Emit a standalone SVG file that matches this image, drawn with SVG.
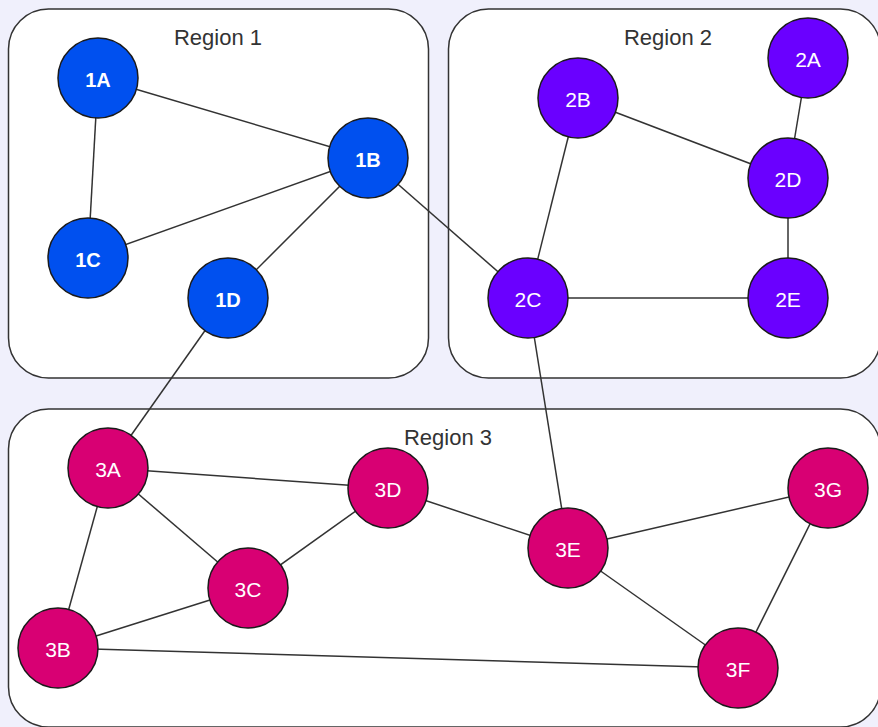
<svg xmlns="http://www.w3.org/2000/svg" width="878" height="727" viewBox="0 0 878 727">
<style>
.region{fill:#ffffff;stroke:#333333;stroke-width:1.5}
.rlabel{font-family:"Liberation Sans",Arial,sans-serif;font-size:22px;fill:#333333;text-anchor:middle}
.edge{stroke:#333333;stroke-width:1.5;fill:none}
.node circle{stroke:#1a1a1a;stroke-width:1.5}
.r1 circle{fill:#0050EF}
.r2 circle{fill:#6A00FF}
.r3 circle{fill:#D80073}
.node text{font-family:"Liberation Sans",Arial,sans-serif;font-size:21px;fill:#ffffff;text-anchor:middle;dominant-baseline:central}
.r1 text{font-weight:bold;font-size:20px}
</style>
<rect x="0" y="0" width="878" height="727" fill="#F0F0FC"/>
<g id="region1"><rect class="region" x="8.5" y="9" width="420" height="369" rx="40"/><text class="rlabel" x="218" y="45">Region 1</text></g>
<g id="region2"><rect class="region" x="448.5" y="9" width="432" height="369" rx="40"/><text class="rlabel" x="668" y="45">Region 2</text></g>
<g id="region3"><rect class="region" x="8.5" y="409" width="872" height="318" rx="40"/><text class="rlabel" x="448" y="445">Region 3</text></g>
<g id="edges">
<line class="edge" x1="98" y1="78" x2="368" y2="158"/>
<line class="edge" x1="98" y1="78" x2="88" y2="258"/>
<line class="edge" x1="88" y1="258" x2="368" y2="158"/>
<line class="edge" x1="368" y1="158" x2="228" y2="298"/>
<line class="edge" x1="368" y1="158" x2="528" y2="298"/>
<line class="edge" x1="228" y1="298" x2="108" y2="468"/>
<line class="edge" x1="578" y1="98" x2="528" y2="298"/>
<line class="edge" x1="578" y1="98" x2="788" y2="178"/>
<line class="edge" x1="808" y1="58" x2="788" y2="178"/>
<line class="edge" x1="788" y1="178" x2="788" y2="298"/>
<line class="edge" x1="528" y1="298" x2="788" y2="298"/>
<line class="edge" x1="528" y1="298" x2="568" y2="548"/>
<line class="edge" x1="108" y1="468" x2="388" y2="488"/>
<line class="edge" x1="108" y1="468" x2="248" y2="588"/>
<line class="edge" x1="108" y1="468" x2="58" y2="648"/>
<line class="edge" x1="248" y1="588" x2="388" y2="488"/>
<line class="edge" x1="58" y1="648" x2="248" y2="588"/>
<line class="edge" x1="58" y1="648" x2="738" y2="668"/>
<line class="edge" x1="388" y1="488" x2="568" y2="548"/>
<line class="edge" x1="568" y1="548" x2="828" y2="488"/>
<line class="edge" x1="568" y1="548" x2="738" y2="668"/>
<line class="edge" x1="828" y1="488" x2="738" y2="668"/>
</g>
<g id="n1A" class="node r1"><circle cx="98" cy="78" r="40"/><text x="98" y="80">1A</text></g>
<g id="n1B" class="node r1"><circle cx="368" cy="158" r="40"/><text x="368" y="160">1B</text></g>
<g id="n1C" class="node r1"><circle cx="88" cy="258" r="40"/><text x="88" y="260">1C</text></g>
<g id="n1D" class="node r1"><circle cx="228" cy="298" r="40"/><text x="228" y="300">1D</text></g>
<g id="n2A" class="node r2"><circle cx="808" cy="58" r="40"/><text x="808" y="59">2A</text></g>
<g id="n2B" class="node r2"><circle cx="578" cy="98" r="40"/><text x="578" y="99">2B</text></g>
<g id="n2C" class="node r2"><circle cx="528" cy="298" r="40"/><text x="528" y="299">2C</text></g>
<g id="n2D" class="node r2"><circle cx="788" cy="178" r="40"/><text x="788" y="179">2D</text></g>
<g id="n2E" class="node r2"><circle cx="788" cy="298" r="40"/><text x="788" y="299">2E</text></g>
<g id="n3A" class="node r3"><circle cx="108" cy="468" r="40"/><text x="108" y="469">3A</text></g>
<g id="n3B" class="node r3"><circle cx="58" cy="648" r="40"/><text x="58" y="649">3B</text></g>
<g id="n3C" class="node r3"><circle cx="248" cy="588" r="40"/><text x="248" y="589">3C</text></g>
<g id="n3D" class="node r3"><circle cx="388" cy="488" r="40"/><text x="388" y="489">3D</text></g>
<g id="n3E" class="node r3"><circle cx="568" cy="548" r="40"/><text x="568" y="549">3E</text></g>
<g id="n3F" class="node r3"><circle cx="738" cy="668" r="40"/><text x="738" y="669">3F</text></g>
<g id="n3G" class="node r3"><circle cx="828" cy="488" r="40"/><text x="828" y="489">3G</text></g>
</svg>
